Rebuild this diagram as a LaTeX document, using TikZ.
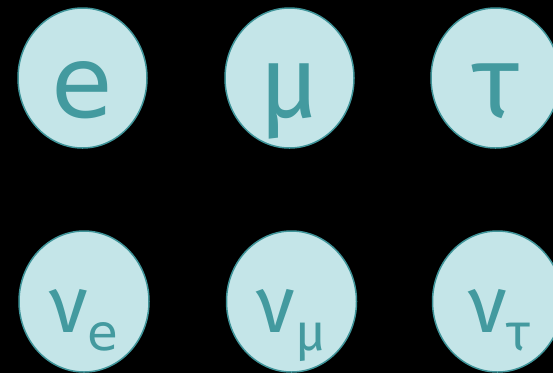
\documentclass[tikz,border=0pt]{standalone}
\usepackage{fontspec}
\setmainfont{DejaVu Sans}
\newfontfamily\greekfont{Fira Sans}
\newfontfamily\latinfont{DejaVu Sans}
\usetikzlibrary{shapes.geometric}
\definecolor{bubblefill}{HTML}{C4E5E8}
\definecolor{bubbleline}{HTML}{3F9499}
\definecolor{bubbletext}{HTML}{439A9F}
\tikzset{
  bubble/.style={ellipse, draw=bubbleline, fill=bubblefill, line width=1.5pt, minimum width=129pt, minimum height=140pt, inner sep=0pt},
  bigsym/.style={anchor=base, inner sep=0pt, text=bubbletext, font=\latinfont\fontsize{100}{100}\selectfont},
  biggreek/.style={anchor=base, inner sep=0pt, text=bubbletext, font=\greekfont\fontsize{102}{102}\selectfont},
  nusym/.style={anchor=base, inner sep=0pt, text=bubbletext, font=\greekfont\fontsize{80}{80}\selectfont}
}
\newcommand{\nusub}[1]{ν\raisebox{-18pt}{\fontsize{52}{52}\selectfont #1}}
\begin{document}
\begin{tikzpicture}[x=1pt,y=-1pt]
\fill[black] (0,0) rectangle (553,373);
\useasboundingbox (0,0) rectangle (553,373);
\clip (0,0) rectangle (553,373);
\node[bubble] (ce) at (82.5,78) {};
\node[bubble] (cmu) at (289.5,78) {};
\node[bubble] (ctau) at (495.5,78) {};
\node[bubble, minimum height=141pt, minimum width=130pt] (cnue) at (84,301.5) {};
\node[bubble, minimum height=141pt, minimum width=130pt] (cnumu) at (291.5,301.5) {};
\node[bubble, minimum height=141pt, minimum width=130pt] (cnutau) at (497.5,301.5) {};
\node[bigsym] (te) at (82.5,117) {e};
\node[biggreek] (tmu) at (289.5,117) {μ};
\node[biggreek] (ttau) at (495.5,117) {τ};
\node[nusym] (tnue) at (84,332) {ν\raisebox{-18pt}{\latinfont\fontsize{50}{50}\selectfont e}};
\node[nusym] (tnumu) at (291.5,332) {\nusub{μ}};
\node[nusym] (tnutau) at (499.5,332) {\nusub{τ}};
\end{tikzpicture}
\end{document}
